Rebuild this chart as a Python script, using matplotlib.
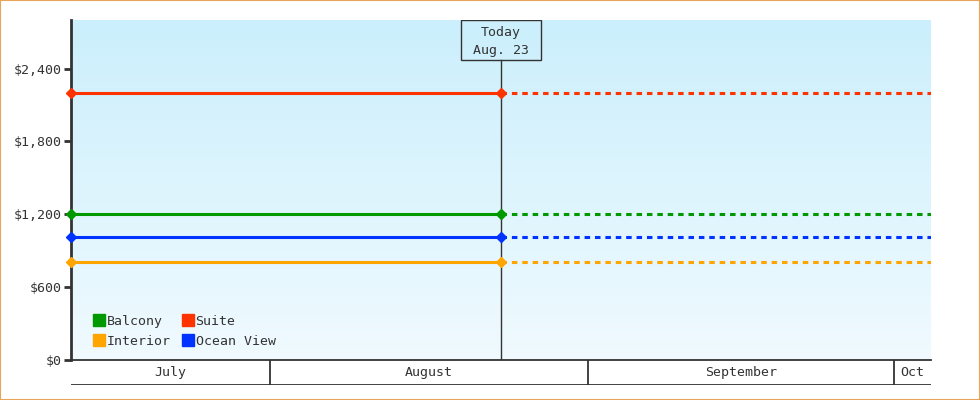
import numpy as np
import matplotlib
matplotlib.use("Agg")
import matplotlib.pyplot as plt
import matplotlib.dates as mdates
from matplotlib.lines import Line2D
from matplotlib.patches import Rectangle
from datetime import datetime

# cabin prices (flat since the first data point)
cabins = ['Balcony', 'Interior', 'Suite', 'Ocean View']
prices = [1200, 810, 2200, 1010]
colors = ['#009900', '#FFA500', '#FF3300', '#0033FF']

start = datetime(2019, 7, 12, 12)
today = datetime(2019, 8, 23, 12)
end = datetime(2019, 10, 4, 14)

month_names = ['July', 'August', 'September', 'Oct']
month_starts = [datetime(2019, 7, 1), datetime(2019, 8, 1),
                datetime(2019, 9, 1), datetime(2019, 10, 1), datetime(2019, 11, 1)]

y_ticks = [0, 600, 1200, 1800, 2400]
y_max = 2800

ink = '#333333'
plt.rcParams['font.family'] = ['DejaVu Sans Mono']
plt.rcParams['font.size'] = 9.5

fig = plt.figure(figsize=(9.8, 4), dpi=100)
ax = fig.add_axes([71 / 980, 40 / 400, 860 / 980, 340 / 400])

x0, x1 = mdates.date2num(start), mdates.date2num(end)
xt = mdates.date2num(today)
ax.set_xlim(x0, x1)
ax.set_ylim(0, y_max)

# background gradient
grad = np.linspace(0, 1, 256).reshape(-1, 1)
top = np.array([0xCB, 0xEF, 0xFC]) / 255
bot = np.array([0xF0, 0xFA, 0xFF]) / 255
img = top * (1 - grad)[:, :, None] + bot * grad[:, :, None]
ax.imshow(img, extent=[x0, x1, 0, y_max], aspect='auto', origin='upper', zorder=0)

for name, p, c in zip(cabins, prices, colors):
    ax.plot([x0, xt], [p, p], color=c, lw=2.2, zorder=3, solid_capstyle='butt')
    ax.plot([xt, x1], [p, p], color=c, lw=2.2, zorder=3, dashes=(1.8, 1.6))
    ax.plot([x0, xt], [p, p], ls='none', marker='D', ms=5.5, color=c, zorder=4, clip_on=False)

# today marker
px_day = 860 / (x1 - x0)
px_val = 340 / y_max
box_w, box_h = 80 / px_day, 40 / px_val
ax.add_patch(Rectangle((xt - box_w / 2, y_max - box_h), box_w, box_h, fill=False,
                       edgecolor=ink, lw=1, zorder=5))
ax.plot([xt, xt], [0, y_max - box_h], color=ink, lw=1, zorder=2)
ax.text(xt, y_max - box_h / 2 - 12, 'Today\nAug. 23', ha='center', va='center',
        color=ink, linespacing=1.55, zorder=6)

# axes styling
for s in ['top', 'right']:
    ax.spines[s].set_visible(False)
ax.spines['left'].set_color(ink)
ax.spines['left'].set_linewidth(2)
ax.spines['bottom'].set_color(ink)
ax.spines['bottom'].set_linewidth(1.3)
ax.set_yticks(y_ticks)
ax.set_yticklabels(['${:,}'.format(v) for v in y_ticks])
ax.tick_params(axis='y', length=5, width=2, color=ink, labelcolor=ink, pad=2)
ax.set_xticks([])

handles = [Line2D([], [], ls='none', marker='s', ms=8, color=c) for c in colors]
ax.legend(handles, cabins, ncol=2, loc='lower left', bbox_to_anchor=(0.016, 0.009),
          frameon=False, handlelength=0.8, handletextpad=0.2, columnspacing=0.85,
          labelspacing=0.5, borderaxespad=0.3, labelcolor=ink)

# month strip below the plot
ax2 = fig.add_axes([71 / 980, 15 / 400, 860 / 980, 25 / 400])
ax2.set_xlim(x0, x1)
ax2.set_ylim(0, 1)
ax2.axis('off')
ax2.axhline(0, color=ink, lw=1.3)
for i, name in enumerate(month_names):
    a = max(mdates.date2num(month_starts[i]), x0)
    b = min(mdates.date2num(month_starts[i + 1]), x1)
    if mdates.date2num(month_starts[i]) > x0:
        ax2.plot([a, a], [0, 1], color=ink, lw=1.3)
    ax2.text((a + b) / 2, 0.5, name, ha='center', va='center', color=ink)

fig.patches.append(Rectangle((0, 0), 1, 1, transform=fig.transFigure, fill=False,
                             edgecolor='#E8A55A', lw=1.5))

fig.savefig('out.png', dpi=100, facecolor='white')
